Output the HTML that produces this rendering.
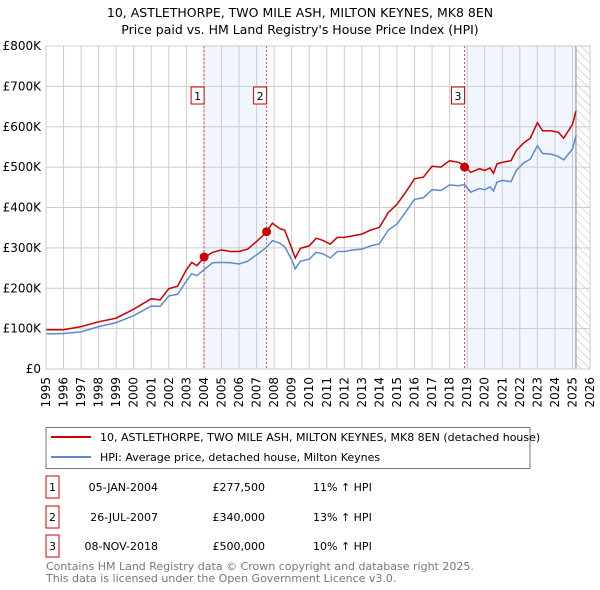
<!DOCTYPE html>
<html><head><meta charset="utf-8"><style>
body{margin:0;background:#fff;font-family:"Liberation Sans","DejaVu Sans",sans-serif;}
#wrap{position:relative;width:600px;height:590px;overflow:hidden;}
svg text{font-family:"DejaVu Sans","Liberation Sans",sans-serif;}
</style></head><body><div id="wrap">
<svg id="chart" width="600" height="590"></svg>
</div>
<script>
const redYears=[1995,1996,1997,1998,1999,2000,2001,2001.5,2002,2002.5,2003,2003.3,2003.6,2004,2004.5,2005,2005.5,2006,2006.5,2007,2007.5,2007.9,2008.3,2008.6,2009,2009.2,2009.5,2010,2010.4,2010.8,2011.2,2011.6,2012,2012.5,2013,2013.5,2014,2014.5,2015,2015.5,2016,2016.5,2017,2017.5,2018,2018.5,2018.85,2019.2,2019.7,2020,2020.3,2020.5,2020.7,2021,2021.5,2021.8,2022.2,2022.6,2023,2023.3,2023.8,2024.2,2024.5,2025,2025.2];
const redValues=[97,97,105,117,126,148,174,171,199,205,246,264,256,276,289,295,291,291,297,316,336,361,348,344,299,275,299,305,324,318,309,326,326,330,334,344,351,387,408,438,471,475,502,500,516,512,504,487,496,492,498,485,508,512,516,541,559,572,610,590,590,586,572,606,639];
const hpiValues=[87,88,92,105,115,132,156,155,181,185,218,236,231,246,263,264,263,260,267,283,299,318,312,303,271,248,267,272,289,285,275,291,291,295,297,305,310,344,359,389,420,424,444,442,456,454,457,438,447,444,451,441,463,467,464,492,510,520,553,534,532,526,518,545,578];
const saleLabels=["1","2","3"];
const saleDates=[2004.01,2007.57,2018.85];
const salePrices=[277.5,340,500];
const yTicks=[0,100,200,300,400,500,600,700,800];
const yTickLabels=["£0","£100K","£200K","£300K","£400K","£500K","£600K","£700K","£800K"];
const xTicks=[1995,1996,1997,1998,1999,2000,2001,2002,2003,2004,2005,2006,2007,2008,2009,2010,2011,2012,2013,2014,2015,2016,2017,2018,2019,2020,2021,2022,2023,2024,2025,2026];
const tableDates=["05-JAN-2004","26-JUL-2007","08-NOV-2018"];
const tablePrices=["£277,500","£340,000","£500,000"];
const tableHpi=["11% ↑ HPI","13% ↑ HPI","10% ↑ HPI"];

const L=46,R=590,T=46,B=369;
const x=v=>L+(v-1995)*(R-L)/31;
const y=v=>B-v*(B-T)/800;
const svg=document.getElementById('chart');
const NS='http://www.w3.org/2000/svg';
function mk(tag,attrs,parent){const e=document.createElementNS(NS,tag);for(const k in attrs)e.setAttribute(k,attrs[k]);(parent||svg).appendChild(e);return e;}
function txt(s,attrs){const e=mk('text',attrs);e.textContent=s;return e;}

let t=txt("10, ASTLETHORPE, TWO MILE ASH, MILTON KEYNES, MK8 8EN",{x:300,y:17,'text-anchor':'middle','font-size':12.5,fill:'#000'});

t=txt("Price paid vs. HM Land Registry's House Price Index (HPI)",{x:300,y:34,'text-anchor':'middle','font-size':12.5,fill:'#000'});


// shaded regions
let r=mk('rect',{x:x(saleDates[0]),y:T,width:x(saleDates[1])-x(saleDates[0]),height:B-T,fill:'#eef3fc',opacity:0.8});

r=mk('rect',{x:x(saleDates[2]),y:T,width:x(2025.2)-x(saleDates[2]),height:B-T,fill:'#eef3fc',opacity:0.8});

// hatch
const defs=mk('defs',{});
const pat=mk('pattern',{id:'hatch',width:6,height:6,patternUnits:'userSpaceOnUse',patternTransform:'rotate(-45)'},defs);
mk('line',{x1:0,y1:0,x2:0,y2:6,stroke:'#bbb','stroke-width':1},pat);
r=mk('rect',{x:x(2025.2),y:T,width:R-x(2025.2),height:B-T,fill:'url(#hatch)'});


// grid
xTicks.forEach(v=>{const l=mk('line',{x1:x(v),y1:T,x2:x(v),y2:B,stroke:'#ccc','stroke-width':1});

const tx=txt(String(v),{x:0,y:0,transform:`translate(${x(v)+4},${B+8}) rotate(-90)`,'text-anchor':'end','font-size':12,fill:'#000'});
});
yTicks.forEach((v,i)=>{const l=mk('line',{x1:L,y1:y(v),x2:R,y2:y(v),stroke:'#ccc','stroke-width':1});

const tx=txt(yTickLabels[i],{x:L-5,y:y(v)+4,'text-anchor':'end','font-size':12,fill:'#000'});
});
let l=mk('line',{x1:x(2025.2),y1:T,x2:x(2025.2),y2:B,stroke:'#888','stroke-width':1});


// sale vlines
saleDates.forEach((d,i)=>{const v=mk('line',{x1:x(d),y1:T,x2:x(d),y2:B,stroke:'#e05050','stroke-width':1,'stroke-dasharray':'2,2'});

const bx=mk('rect',{x:x(d)-13,y:87,width:13,height:17,fill:'#fff',stroke:'#c00','stroke-width':1});

const tt=txt(saleLabels[i],{x:x(d)-6.5,y:100,'text-anchor':'middle','font-size':11,fill:'#000'});
});

function pts(vals){return redYears.map((yr,i)=>x(yr).toFixed(1)+','+y(vals[i]).toFixed(1)).join(' ');}
let p=mk('polyline',{points:pts(hpiValues),fill:'none',stroke:'#5b8bd0','stroke-width':1.5});

p=mk('polyline',{points:pts(redValues),fill:'none',stroke:'#cc0000','stroke-width':1.5});

saleDates.forEach((d,i)=>{const c=mk('circle',{cx:x(d),cy:y(salePrices[i]),r:4.5,fill:'#cc0000'});
});
let fr=mk('rect',{x:L,y:T,width:R-L,height:B-T,fill:'none',stroke:'#ccc','stroke-width':1});


// legend
const lg=mk('rect',{x:46,y:427.5,width:484,height:41,fill:'#fff',stroke:'#777','stroke-width':1});

l=mk('line',{x1:51,y1:437,x2:91,y2:437,stroke:'#cc0000','stroke-width':2});

t=txt("10, ASTLETHORPE, TWO MILE ASH, MILTON KEYNES, MK8 8EN (detached house)",{x:100,y:441,'font-size':11,fill:'#000'});

l=mk('line',{x1:51,y1:457,x2:91,y2:457,stroke:'#5b8bd0','stroke-width':2});

t=txt("HPI: Average price, detached house, Milton Keynes",{x:100,y:461,'font-size':11,fill:'#000'});


// table
const rowY=[487,517,546];
rowY.forEach((ry,i)=>{const b=mk('rect',{x:46,y:ry-11,width:13,height:22,fill:'#fff',stroke:'#c00','stroke-width':1});

let e=txt(saleLabels[i],{x:52.5,y:ry+4,'text-anchor':'middle','font-size':11,fill:'#000'});

e=txt(tableDates[i],{x:158,y:ry+4,'text-anchor':'end','font-size':11,fill:'#000'});

e=txt(tablePrices[i],{x:265,y:ry+4,'text-anchor':'end','font-size':11,fill:'#000'});

e=txt(tableHpi[i],{x:313,y:ry+4,'font-size':11,fill:'#000'});
});

t=txt("Contains HM Land Registry data © Crown copyright and database right 2025.",{x:46,y:570,'font-size':11,fill:'#777'});

t=txt("This data is licensed under the Open Government Licence v3.0.",{x:46,y:582,'font-size':11,fill:'#777'});

</script></body></html>
